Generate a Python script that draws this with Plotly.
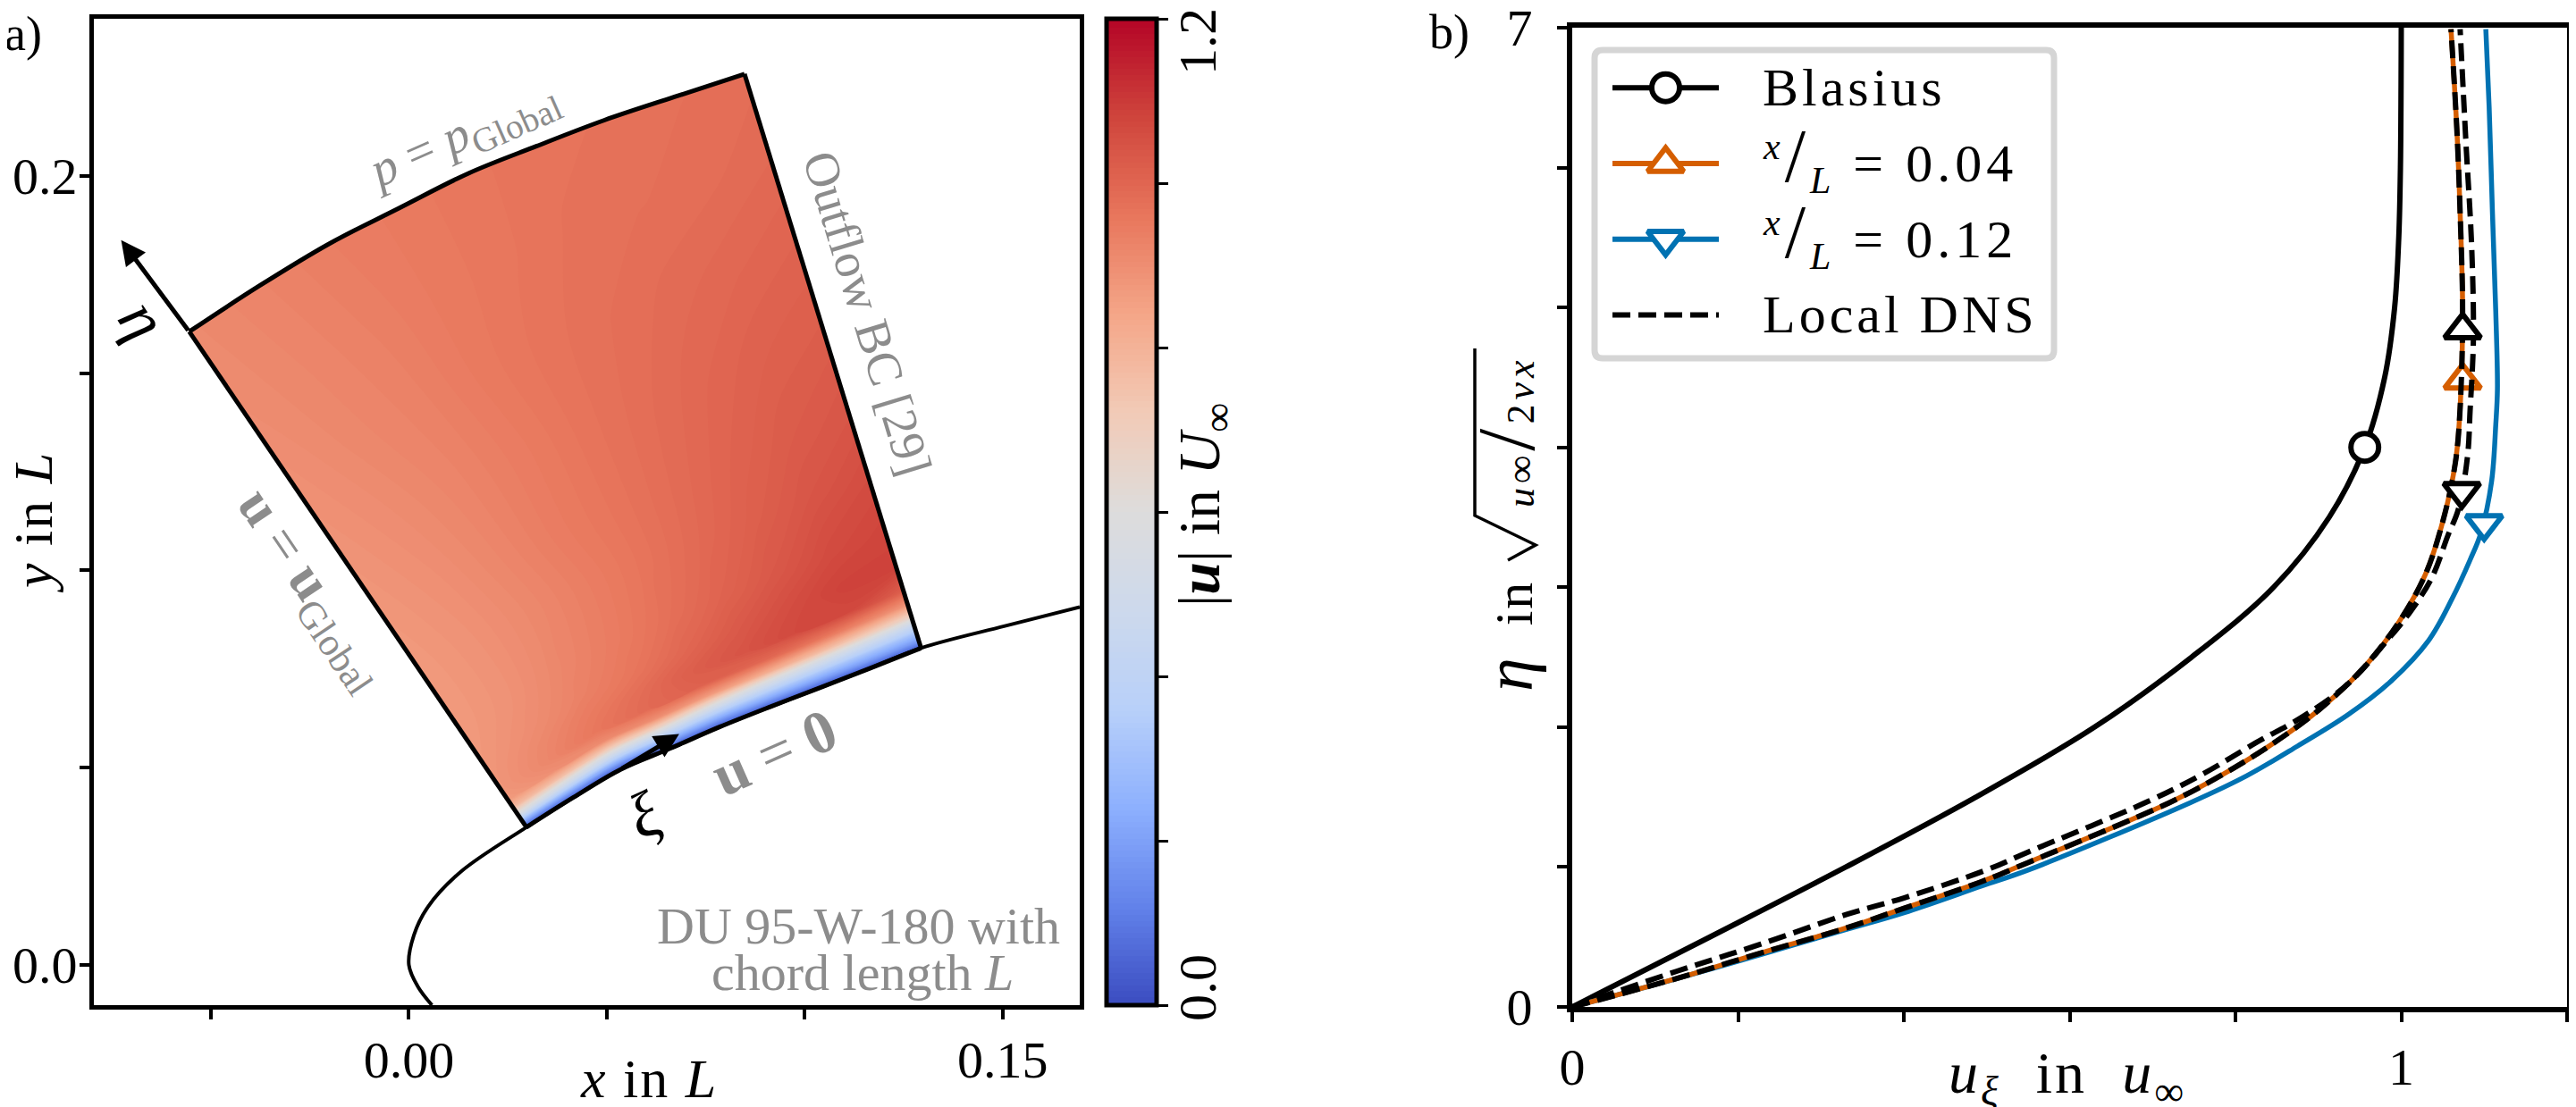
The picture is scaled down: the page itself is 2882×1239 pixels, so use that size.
import plotly.graph_objects as go

W, H = 2882, 1239
PAD = 8  # the page keeps an 8 px body margin
FW, FH = W - PAD, H - PAD
SERIF = "Liberation Serif"
GRAY = "#8c8c8c"

# ---------- panel a data ----------
airfoil_x = [.00583, .0023, 0, .00125, .0048, .0131, .0297, .0415, .0536, .0661, .0785, .0910, .1035, .1163, .1294, .1506, .1695]
airfoil_y = [-.0102, -.00555, 0, .0075, .0147, .0236, .0349, .0424, .0496, .0549, .0603, .0653, .0701, .0751, .0803, .0859, .0907]
wall_x = [.0297, .0415, .0536, .0661, .0785, .0910, .1035, .1163, .1294]
wall_y = [.0349, .0424, .0496, .0549, .0603, .0653, .0701, .0751, .0803]
top_x = [-.0555, -.0378, -.0201, -.0025, .0152, .0322, .0494, .0671, .0848]
top_y = [.1605, .1721, .1828, .1918, .2007, .2075, .2141, .2200, .2258]
station = [0, 1, 2, 3, 4, 5, 6, 7, 8]
normal_frac = [0, .012, .025, .04, .055, .075, .10, .14, .2, .3, .4, .55, .7, .85, 1.0]
speed = [
    [.02, .02, .02, .02, .02, .02, .02, .02, .02],
    [.25, .24, .22, .21, .20, .20, .19, .19, .18],
    [.55, .50, .45, .41, .38, .36, .34, .32, .30],
    [.78, .76, .72, .68, .63, .58, .54, .50, .46],
    [.87, .90, .91, .90, .87, .83, .78, .73, .68],
    [.88, .92, .96, .99, 1.01, 1.00, .97, .93, .88],
    [.88, .915, .95, .985, 1.02, 1.045, 1.07, 1.07, 1.02],
    [.875, .90, .93, .96, .995, 1.03, 1.06, 1.085, 1.085],
    [.87, .89, .92, .945, .975, 1.005, 1.035, 1.065, 1.08],
    [.87, .89, .915, .94, .965, .99, 1.015, 1.04, 1.06],
    [.875, .895, .92, .945, .965, .985, 1.005, 1.025, 1.04],
    [.885, .905, .925, .945, .965, .98, .995, 1.01, 1.02],
    [.895, .915, .93, .95, .965, .975, .985, .995, 1.005],
    [.905, .92, .935, .95, .96, .97, .975, .98, .99],
    [.91, .925, .94, .95, .96, .965, .97, .975, .98],
]
coolwarm = [[0, "#3b4cc0"], [.1, "#6282ea"], [.2, "#8db0fe"], [.3, "#b8d0f9"], [.4, "#cdd9ec"],
            [.5, "#dddcdc"], [.6, "#f2cbb7"], [.7, "#f4a688"], [.8, "#e8765c"], [.9, "#cf453c"], [1, "#b40426"]]

# ---------- panel b data ----------
blasius_eta = [0, .5, 1, 1.5, 2, 2.5, 3, 3.5, 4, 4.5, 5, 5.5, 6, 7]
blasius_u = [0, .166, .330, .487, .630, .747, .846, .913, .956, .980, .992, .997, .999, 1.0]
x004_u = [0, .127, .2276, .332, .40, .4937, .551, .7202, .785, .846, .90, .9539, .997, 1.029, 1.051, 1.0655, 1.071, 1.074, 1.071, 1.067, 1.06]
x004_eta = [0, .205, .386, .567, .705, .896, 1.035, 1.46, 1.663, 1.886, 2.12, 2.42, 2.75, 3.09, 3.49, 3.90, 4.28, 4.97, 5.68, 6.28, 6.99]
x012_u = [0, .127, .2276, .332, .40, .4937, .551, .7454, .8134, .875, .936, .986, 1.033, 1.0615, 1.083, 1.096, 1.109, 1.114, 1.116, 1.114, 1.11, 1.106, 1.102]
x012_eta = [0, .204, .375, .556, .673, .864, .981, 1.46, 1.652, 1.865, 2.09, 2.32, 2.62, 2.92, 3.195, 3.387, 3.758, 4.162, 4.414, 4.97, 5.677, 6.434, 6.99]
dns012_u = [0, .127, .2276, .332, .40, .50, .551, .695, .76, .824, .882, .936, .983, 1.0115, 1.037, 1.056, 1.069, 1.08, 1.083, 1.087, 1.085, 1.078, 1.071]
dns012_eta = [0, .257, .449, .663, .779, .98, 1.11, 1.47, 1.663, 1.886, 2.078, 2.31, 2.62, 2.83, 3.07, 3.366, 3.56, 3.94, 4.26, 4.768, 5.424, 6.182, 6.99]
mark_blasius = (.956, 4.0)
mark_x004 = (1.074, 4.48)
mark_x012 = (1.10, 3.455)
mark_dns004 = (1.074, 4.84)
mark_dns012 = (1.073, 3.685)

# ---------- geometry helpers (pixel frame of each panel) ----------
def px(x):
    return (x - PAD) / FW
def py(y):
    return 1 - (y - PAD) / FH
def dom(a, b):
    return [px(a), px(b)]
def ydom(top, bottom):
    return [py(bottom), py(top)]

# carpet: wall-normal rays from wall to top arc; a hair-thin last cell in both
# directions keeps the contour perimeter from cutting the far corner
edge = .001
grid_frac = normal_frac + [1 + edge]
grid_station = station + [station[-1] + edge]
ext = lambda v: v + [v[-1] + edge * (v[-1] - v[-2])]
g_wall_x, g_wall_y, g_top_x, g_top_y = ext(wall_x), ext(wall_y), ext(top_x), ext(top_y)
carpet_x = [[w + f * (t - w) for w, t in zip(g_wall_x, g_top_x)] for f in grid_frac]
carpet_y = [[w + f * (t - w) for w, t in zip(g_wall_y, g_top_y)] for f in grid_frac]
grid_speed = [row + [row[-1]] for row in speed]
grid_speed.append(grid_speed[-1])

fig = go.Figure()
fig.add_trace(go.Carpet(
    a=grid_station, b=grid_frac, x=carpet_x, y=carpet_y, carpet="c1", xaxis="x", yaxis="y",
    aaxis=dict(showgrid=False, showline=False, showticklabels="none", startline=False, endline=False,
               minorgridcount=0, smoothing=0),
    baxis=dict(showgrid=False, showline=False, showticklabels="none", startline=False, endline=False,
               minorgridcount=0, smoothing=0),
))
fig.add_trace(go.Contourcarpet(
    a=grid_station, b=grid_frac, z=grid_speed, carpet="c1", xaxis="x", yaxis="y",
    colorscale=coolwarm, zmin=0, zmax=1.2, autocontour=False,
    contours=dict(start=-.0963, end=1.2037, size=.0071, coloring="fill", showlines=False),
    line=dict(width=0), showscale=True,
    colorbar=dict(x=px(1238), xanchor="left", xpad=0, ypad=0, y=py(21), yanchor="top",
                  len=(1125 - 21) / FH, lenmode="fraction", thickness=56, thicknessmode="pixels",
                  outlinewidth=5, outlinecolor="black", ticks="outside", ticklen=11, tickwidth=3,
                  tickcolor="black", tickmode="array", tickvals=[0, .2, .4, .6, .8, 1.0, 1.2],
                  ticktext=[""] * 7, showticklabels=False),
))
fig.add_trace(go.Scatter(x=airfoil_x, y=airfoil_y, mode="lines", xaxis="x", yaxis="y",
                         line=dict(color="black", width=4, shape="spline"), showlegend=False))
fig.add_trace(go.Scatter(x=wall_x, y=wall_y, mode="lines", xaxis="x", yaxis="y",
                         line=dict(color="black", width=5, shape="spline"), showlegend=False))
fig.add_trace(go.Scatter(x=top_x, y=top_y, mode="lines", xaxis="x", yaxis="y",
                         line=dict(color="black", width=5, shape="spline"), showlegend=False))
for i in (0, -1):
    fig.add_trace(go.Scatter(x=[wall_x[i], top_x[i]], y=[wall_y[i], top_y[i]], mode="lines", xaxis="x", yaxis="y",
                             line=dict(color="black", width=5), showlegend=False))

# panel b
def mk(sym, c):
    return dict(symbol=sym, size=31 if sym == "circle" else 35, color="white", line=dict(color=c, width=6))
ORANGE, BLUE = "#d55e00", "#0072b2"
DASH = "20px,9px"
fig.add_trace(go.Scatter(x=blasius_u, y=blasius_eta, mode="lines", xaxis="x2", yaxis="y2",
                         line=dict(color="black", width=6, shape="spline"), showlegend=False))
fig.add_trace(go.Scatter(x=x012_u, y=x012_eta, mode="lines", xaxis="x2", yaxis="y2",
                         line=dict(color=BLUE, width=5.5, shape="spline"), showlegend=False))
fig.add_trace(go.Scatter(x=x004_u, y=x004_eta, mode="lines", xaxis="x2", yaxis="y2",
                         line=dict(color=ORANGE, width=5.5, shape="spline"), showlegend=False))
for pt, sym, c in [(mark_blasius, "circle", "black"), (mark_x004, "triangle-up", ORANGE),
                   (mark_x012, "triangle-down", BLUE)]:
    fig.add_trace(go.Scatter(x=[pt[0]], y=[pt[1]], mode="markers", xaxis="x2", yaxis="y2",
                             marker=mk(sym, c), showlegend=False))
fig.add_trace(go.Scatter(x=x004_u, y=x004_eta, mode="lines", xaxis="x2", yaxis="y2",
                         line=dict(color="black", width=6, dash=DASH, shape="spline"), showlegend=False))
fig.add_trace(go.Scatter(x=dns012_u, y=dns012_eta, mode="lines", xaxis="x2", yaxis="y2",
                         line=dict(color="black", width=6, dash=DASH, shape="spline"), showlegend=False))
for pt, sym in [(mark_dns004, "triangle-up"), (mark_dns012, "triangle-down")]:
    fig.add_trace(go.Scatter(x=[pt[0]], y=[pt[1]], mode="markers", xaxis="x2", yaxis="y2",
                             marker=mk(sym, "black"), showlegend=False))

# legend keys on an overlay axis
for row, (c, sym, dash) in enumerate([("black", "circle", None), (ORANGE, "triangle-up", None),
                                      (BLUE, "triangle-down", None), ("black", None, DASH)]):
    line = dict(color=c, width=6)
    if dash:
        line["dash"] = dash
    fig.add_trace(go.Scatter(x=[0, 1], y=[row, row], mode="lines", xaxis="x3", yaxis="y3",
                             line=line, showlegend=False))
    if sym:
        fig.add_trace(go.Scatter(x=[.5], y=[row], mode="markers", xaxis="x3", yaxis="y3",
                                 marker=mk(sym, c), showlegend=False))

frame = dict(showline=True, linecolor="black", linewidth=5, mirror=True, showgrid=False, zeroline=False,
             ticks="outside", ticklen=11, tickwidth=4, tickcolor="black", automargin=False,
             ticklabeloverflow="allow",
             tickfont=dict(family=SERIF, size=58, color="black"))
frameb = dict(frame, linewidth=6, tickwidth=4)

sp = "\u00a0"
layout = dict(
    width=FW, height=FH, margin=dict(l=0, r=0, t=0, b=0, autoexpand=False),
    paper_bgcolor="white", plot_bgcolor="white",
    showlegend=False, font=dict(family=SERIF, color="black"),
    xaxis=dict(frame, domain=dom(105, 1208), range=[-.0796, .1695], ticklabelstandoff=-5,
               tickvals=[-.05, 0, .05, .1, .15], ticktext=["", "0.00", "", "", "0.15"]),
    yaxis=dict(frame, domain=ydom(21, 1125), range=[-.0102, .2398], ticklabelstandoff=-9,
               tickvals=[0, .05, .1, .15, .2], ticktext=["0.0", "", "", "", "0.2"]),
    xaxis2=dict(frameb, domain=dom(1759, 2872), range=[0, 1.2], anchor="y2",
                tickvals=[0, .2, .4, .6, .8, 1, 1.2], ticktext=["0", "", "", "", "", "1", ""]),
    yaxis2=dict(frameb, domain=ydom(31, 1127), range=[0, 7], anchor="x2", ticklabelstandoff=16,
                tickvals=list(range(8)), ticktext=["0", "", "", "", "", "", "", "7"]),
    xaxis3=dict(domain=dom(1804, 1923), range=[0, 1], visible=False, anchor="y3", fixedrange=True),
    yaxis3=dict(domain=ydom(60, 395), range=[3.5, -.45], visible=False, anchor="x3", fixedrange=True),
)
fig.update_layout(**layout)

# legend frame
def rounded(x0, y0, x1, y1, r):
    X0, X1, Y0, Y1, rx, ry = px(x0), px(x1), py(y0), py(y1), r / FW, r / FH
    return (f"M{X0+rx},{Y0} L{X1-rx},{Y0} Q{X1},{Y0} {X1},{Y0-ry} L{X1},{Y1+ry} Q{X1},{Y1} {X1-rx},{Y1} "
            f"L{X0+rx},{Y1} Q{X0},{Y1} {X0},{Y1+ry} L{X0},{Y0-ry} Q{X0},{Y0} {X0+rx},{Y0} Z")
fig.add_shape(type="path", path=rounded(1784, 56, 2298, 401, 9), xref="paper", yref="paper",
              line=dict(color="#d5d5d5", width=7), fillcolor="white", layer="below")
# radical sign of the y label in panel b
fig.add_shape(type="path", xref="paper", yref="paper", layer="above", line=dict(color="black", width=3.5),
              path=f"M{px(1650)},{py(390)} L{px(1650)},{py(577)} L{px(1718)},{py(610)} L{px(1687)},{py(627)}")

def note(text, x, y, size=52, color="black", angle=0, anchor="center"):
    fig.add_annotation(text=text, x=px(x), y=py(y), xref="paper", yref="paper", showarrow=False,
                       textangle=angle, xanchor=anchor, yanchor="middle",
                       font=dict(family=SERIF, size=size, color=color))

ls = lambda s, v=4: f'<span style="letter-spacing:{v}px">{s}</span>'
slash = '<span style="font-size:84px">/</span>'
LEG = 60
note(ls("Blasius"), 1970, 98, LEG, anchor="left")
note(ls(f"<sup><i>x</i></sup>{slash}<sub><i>L</i></sub>{sp}={sp}0.04", 5), 1970, 176, LEG, anchor="left")
note(ls(f"<sup><i>x</i></sup>{slash}<sub><i>L</i></sub>{sp}={sp}0.12", 5), 1970, 262, LEG, anchor="left")
note(ls("Local DNS"), 1970, 352, LEG, anchor="left")

note("a)", 26, 38, 54)
note("b)", 1622, 36, 54)
note(ls(f"<i>x</i>{sp}in{sp}<i>L</i>", 2), 726, 1207, 62)
note(ls(f"<i>y</i>{sp}in{sp}<i>L</i>", 2), 37, 585, 62, "black", -90)
note(ls(f"<i>u</i><sub><i>ξ</i></sub>{sp}{sp}in{sp}{sp}<i>u</i><sub>∞</sub>", 3), 2313, 1205, 66)
note(ls(f'<span style="font-size:76px"><i>η</i></span>{sp}{sp}in', 2), 1688, 712, 60, "black", -90)
note(ls(f'<i>u</i>∞<span style="font-size:90px">/</span>2<i>νx</i>', 5), 1686, 484, 44, "black", -90)
note(f"<i>p</i>{sp}={sp}<i>p</i><sub>Global</sub>", 518, 152, 56, GRAY, -24)
note("Outflow BC [29]", 970, 351, 55, GRAY, 73)
note(f"<b>u</b>{sp}={sp}<b>u</b><sub>Global</sub>", 348, 660, 62, GRAY, 56)
note(f"<b>u</b>{sp}={sp}<b>0</b>", 866, 842, 68, GRAY, -24)
note("DU 95-W-180 with", 960, 1036, 58, GRAY)
note("chord length <i>L</i>", 965, 1088, 58, GRAY)
note("<i>η</i>", 160, 358, 72, "black", 56)
note("<i>ξ</i>", 720, 913, 72, "black", -24)
note(f"|<b><i>u</i></b>|{sp}in{sp}<i>U</i><sub>∞</sub>", 1346, 565, 66, "black", -90)
note("1.2", 1340, 47, 60, "black", -90)
note("0.0", 1340, 1106, 60, "black", -90)

# arrows
fig.add_annotation(x=-.0727, y=.1837, ax=-.0555, ay=.1605, xref="x", yref="y", axref="x", ayref="y",
                   text="", showarrow=True, arrowhead=2, arrowsize=1.1, arrowwidth=5, arrowcolor="black")
fig.add_annotation(x=.0683, y=.0585, ax=.0536, ay=.0496, xref="x", yref="y", axref="x", ayref="y",
                   text="", showarrow=True, arrowhead=2, arrowsize=1.1, arrowwidth=5, arrowcolor="black")

fig.write_html("out.html")
